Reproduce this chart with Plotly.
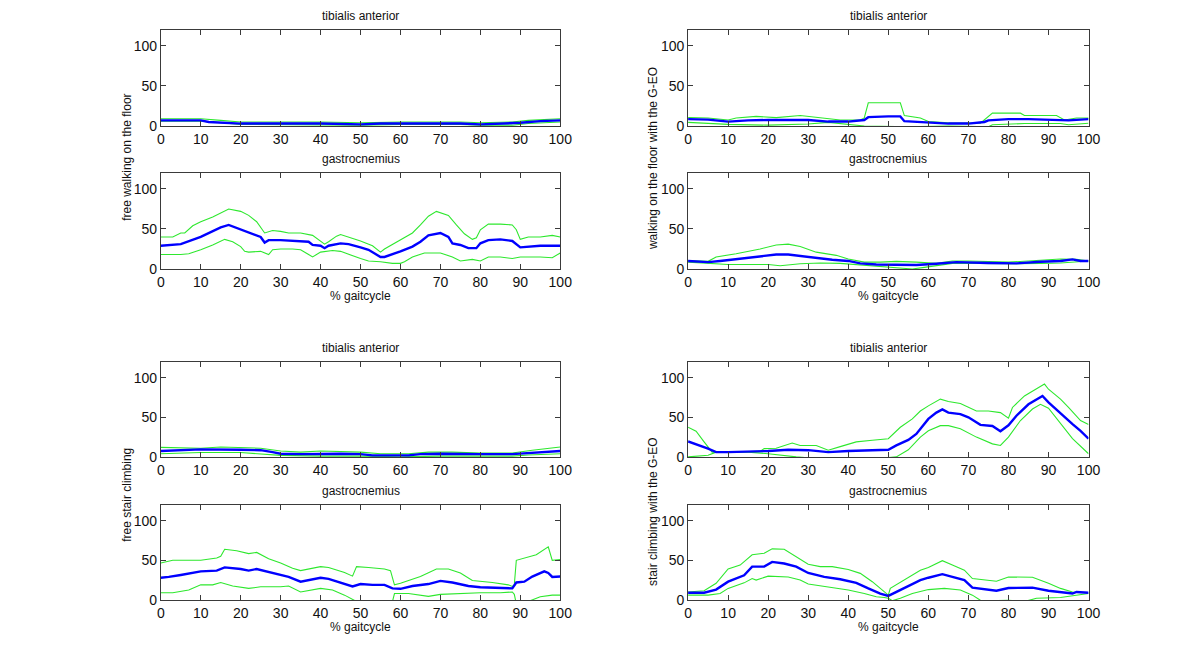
import plotly.graph_objects as go

# --- data: (percent of gait cycle, EMG amplitude) ---

# free walking on the floor
fw_tib_mean = [(0, 7), (10, 7), (12, 5), (20, 3), (40, 3), (50, 2), (55, 3), (75, 3), (80, 2), (87, 3), (90, 4), (95, 6), (100, 7)]
fw_tib_up = [(0, 9), (10, 9), (15, 7), (20, 5), (40, 5), (50, 4), (60, 5), (75, 5), (80, 4), (88, 5), (92, 7), (100, 9)]
fw_tib_lo = [(0, 6), (10, 6), (15, 4), (20, 2), (50, 1), (60, 2), (75, 2), (80, 1), (88, 1), (92, 3), (100, 5)]

fw_gas_mean = [(0, 29), (5, 31), (10, 40), (15, 52), (17, 55), (20, 49), (22, 45), (25, 40), (26, 33), (27, 36), (30, 36),
               (35, 35), (37, 34), (38, 30), (40, 29), (41, 26), (42, 29), (45, 32), (47, 31), (50, 27), (52, 24), (55, 15),
               (56, 15), (60, 22), (63, 28), (65, 34), (67, 42), (70, 45), (72, 40), (73, 32), (75, 30), (77, 26), (79, 26),
               (80, 32), (82, 36), (85, 37), (88, 35), (90, 27), (93, 28), (95, 29), (100, 29)]
fw_gas_up = [(0, 40), (3, 40), (5, 45), (6, 45), (8, 54), (10, 59), (13, 65), (15, 70), (17, 75), (20, 72), (22, 67), (24, 59),
             (25, 52), (26, 45), (28, 48), (30, 47), (32, 45), (35, 45), (38, 42), (40, 35), (41, 31), (42, 34), (44, 41),
             (45, 43), (47, 40), (50, 35), (53, 29), (55, 21), (56, 25), (58, 31), (60, 36), (63, 45), (65, 55), (67, 66),
             (69, 72), (70, 70), (72, 67), (74, 55), (76, 44), (78, 37), (79, 39), (80, 49), (82, 56), (85, 56), (88, 55),
             (89, 49), (90, 37), (92, 40), (95, 40), (98, 42), (100, 40)]
fw_gas_lo = [(0, 18), (5, 18), (7, 19), (10, 24), (13, 30), (16, 37), (18, 34), (20, 28), (21, 22), (22, 21), (25, 22),
             (27, 18), (28, 24), (30, 25), (33, 25), (35, 24), (37, 18), (38, 15), (40, 21), (43, 23), (45, 22), (48, 16),
             (50, 13), (52, 10), (55, 9), (58, 7), (60, 7), (61, 9), (63, 15), (66, 20), (70, 20), (73, 15), (75, 10),
             (78, 12), (80, 10), (82, 15), (85, 15), (88, 13), (90, 15), (95, 15), (98, 14), (100, 20)]

# walking on the floor with the G-EO
gw_tib_mean = [(0, 8.5), (5, 8), (10, 5.5), (15, 7), (20, 7.5), (30, 7.5), (35, 5.5), (40, 5.5), (44, 7.5), (45, 11),
               (50, 12), (53, 12), (54, 6), (60, 4), (65, 3), (70, 3), (74, 5), (75, 7), (80, 8.5), (85, 8.5), (93, 7.5),
               (95, 7), (100, 8.5)]
gw_tib_up = [(0, 10.5), (5, 10), (10, 7.5), (12, 10), (17, 12), (22, 10.5), (28, 13), (33, 10.5), (38, 7.5), (43, 7.5),
             (44, 10), (45, 29), (53, 29), (54, 13), (58, 10), (60, 5.5), (65, 4), (73, 3.5), (75, 12), (76, 16), (83, 16),
             (84, 13), (92, 13), (94, 7.5), (97, 10), (100, 10)]
gw_tib_lo = [(0, 4.5), (10, 2), (20, 1), (30, 2.5), (35, 4.5), (40, 2.5), (44, 0), (55, -1), (65, 0), (75, -1), (76, 1.5),
             (84, 3), (93, 3), (95, 1.5), (100, 3.5)]

gw_gas_mean = [(0, 10), (5, 8.5), (8, 10), (12, 12.5), (17, 15), (22, 18), (25, 18), (28, 16), (32, 14), (36, 11.5), (40, 10),
               (43, 7), (47, 5.5), (52, 5.5), (57, 5), (62, 6.5), (67, 8.5), (75, 7.5), (82, 7), (88, 9), (93, 10), (96, 12),
               (98, 10), (100, 10)]
gw_gas_up = [(0, 10.5), (5, 9.5), (7, 15), (12, 19), (18, 25), (22, 30), (25, 31), (28, 28), (32, 21), (37, 17), (40, 12.5),
             (44, 8.5), (48, 8.5), (52, 9.5), (57, 8.5), (62, 7), (66, 10), (70, 10), (80, 8.5), (88, 11.5), (93, 12.5),
             (97, 12), (100, 10)]
gw_gas_lo = [(0, 8.5), (5, 7), (10, 5.5), (20, 5.5), (23, 4), (28, 6.5), (33, 7.5), (38, 7), (42, 5.5), (47, 3), (52, 1),
             (56, 0), (59, 2), (62, 4), (66, 7), (72, 7), (80, 6.5), (88, 7), (93, 7.5), (100, 10)]

# free stair climbing
fs_tib_mean = [(0, 7.5), (5, 8.5), (10, 9.5), (20, 9), (25, 8.5), (28, 6), (30, 4), (35, 3.5), (40, 4), (45, 4), (50, 3.5),
               (53, 2), (62, 2), (65, 3.5), (70, 4), (75, 3.5), (80, 3.5), (88, 3.5), (92, 5), (96, 6), (100, 7.5)]
fs_tib_up = [(0, 12), (10, 11), (15, 12.5), (25, 11), (30, 7.5), (35, 6), (40, 7.5), (45, 7), (50, 6), (55, 4), (62, 4),
             (67, 6), (73, 6), (80, 5), (88, 5), (93, 8.5), (97, 10.5), (100, 12.5)]
fs_tib_lo = [(0, 4), (10, 5.5), (20, 5.5), (25, 4), (30, 2), (40, 1), (50, 1), (60, 0), (70, 1), (80, 1), (88, 1),
             (92, 2.5), (100, 4)]

fs_gas_mean = [(0, 28), (2, 29), (5, 31.5), (10, 36), (14, 37), (15, 39), (16, 41), (20, 39), (22, 37), (24, 39), (27, 35),
               (30, 31), (32, 29), (35, 23), (37, 25), (40, 28), (42, 26.5), (45, 22), (48, 17), (50, 20), (53, 19),
               (56, 19), (58, 14.5), (60, 14), (63, 17.5), (67, 20), (70, 24), (73, 22), (77, 17.5), (80, 16), (85, 15.5),
               (88, 14.5), (89, 22), (91, 23), (93, 29.5), (96, 36), (97, 34), (98, 29), (100, 29.5)]
fs_gas_up = [(0, 46.5), (3, 50), (10, 50), (14, 53), (15, 55), (16, 64), (19, 62), (22, 58.5), (24, 60), (27, 52),
             (30, 46.5), (33, 40), (35, 37), (37, 39), (40, 42), (42, 41), (46, 34.5), (48, 30), (49, 42), (52, 41),
             (56, 39), (57.5, 37), (58.5, 19), (60, 21), (65, 29.5), (69, 39), (72, 39), (75, 34), (78, 24.5), (83, 22),
             (87, 19), (88, 17), (88.5, 19), (89, 50), (91, 53), (94, 57), (97, 67), (98, 50), (100, 51)]
fs_gas_lo = [(0, 9), (3, 9), (7, 12.5), (10, 19), (13, 19), (15, 22), (18, 17.5), (22, 14.5), (25, 16.5), (30, 16.5),
             (32, 17.5), (35, 10), (40, 14.5), (43, 12.5), (46, 6), (48, 0.5), (49, -2), (58, -2), (58.5, 8), (62, 8),
             (67, 4.5), (70, 7), (75, 8), (80, 9), (85, 9), (88, 10), (88.5, 7), (89, -5), (92, -2), (95, 4), (98, 6),
             (100, 6)]

# stair climbing with the G-EO
gs_tib_mean = [(0, 19.5), (3, 14.5), (5, 10.5), (7, 6), (10, 6), (20, 7.5), (25, 9), (30, 8.5), (35, 6), (40, 7.5), (45, 8.5),
               (50, 9), (52, 14.5), (55, 21.5), (57, 29), (60, 48), (62, 56), (63.5, 60), (65, 56), (68, 54), (70, 50),
               (73, 40.5), (76, 39), (78, 32.5), (80, 40), (82, 52), (85, 66.5), (88.5, 77), (90, 69), (93, 55), (96, 41.5),
               (98, 33), (100, 23)]
gs_tib_up = [(0, 37.5), (2, 32.5), (4, 19), (6, 6), (10, 6), (18, 7), (19, 10.5), (22, 11), (26, 17.5), (28, 14.5), (32, 14.5),
             (35, 8.5), (38, 13), (42, 19), (46, 21), (50, 23), (53, 37.5), (56, 48), (58, 58), (60, 64.5), (63, 73),
             (65, 70), (68, 67.5), (72, 58), (75, 58), (78, 56), (80, 49), (81, 62.5), (84, 77), (88, 88.5), (89, 92),
             (90, 85.5), (93, 73), (95, 62.5), (98, 46), (100, 41)]
gs_tib_lo = [(0, 0), (5, 2), (7, 6), (15, 6), (20, 4), (25, 1.5), (27, 0), (35, -3), (45, -3), (52, 0), (55, 9), (58, 25),
             (60, 33), (63, 39.5), (65, 39.5), (68, 35.5), (72, 25), (76, 16.5), (78, 14.5), (80, 25), (83, 46), (86, 60.5),
             (88, 66.5), (90, 61.5), (93, 41.5), (96, 23), (100, 4)]

gs_gas_mean = [(0, 9), (4, 9), (7, 13), (10, 23), (14, 31), (16, 42), (19, 42), (21, 48), (24, 46), (27, 42), (30, 34),
               (34, 29), (38, 26), (42, 21.5), (45, 14.5), (48, 8), (50, 5), (52, 10), (55, 16.5), (58, 25), (60, 28),
               (63.5, 32.5), (66, 29), (69, 25), (71, 15.5), (74, 13.5), (77, 11.5), (80, 15), (86, 15.5), (90, 11.5),
               (93, 10), (96, 8), (97, 10), (100, 9)]
gs_gas_up = [(0, 10), (4, 11.5), (7, 21), (10, 39), (13, 44), (16, 57), (19, 59), (21, 64.5), (24, 64), (27, 54.5), (30, 45),
             (33, 42), (36, 42), (40, 38.5), (43, 33.5), (46, 23), (49, 10), (50, 6), (50.5, 14.5), (54, 25), (58, 37.5),
             (60, 41), (63.5, 49.5), (66, 44), (69, 37.5), (71, 27), (75, 25), (77, 23.5), (80, 29), (86, 28.5), (90, 21),
             (93, 14.5), (96, 10), (100, 9)]
gs_gas_lo = [(0, 6), (5, 6), (8, 8), (10, 14.5), (14, 21.5), (16, 27), (17, 25), (20, 30), (25, 29), (28, 25), (30, 20),
             (35, 16.5), (40, 12.5), (44, 8), (47, 4), (49, 3), (50, 2), (51, -1), (53, 2), (56, 8), (60, 13), (64, 14.5),
             (68, 12.5), (71, 6), (73, -0.5), (76, -1), (80, -0.5), (84, -2), (87, 2), (93, 3), (97, 6), (100, 8)]

row_labels = ["free walking on the floor", "walking on the floor with the G-EO",
              "free stair climbing", "stair climbing with the G-EO"]
muscles = ["tibialis anterior", "gastrocnemius"]
x_ticks = [0, 10, 20, 30, 40, 50, 60, 70, 80, 90, 100]
y_ticks = [0, 50, 100]

# panels in reading order: (condition, muscle, mean, upper, lower)
panels = [
    (0, 0, fw_tib_mean, fw_tib_up, fw_tib_lo),
    (1, 0, gw_tib_mean, gw_tib_up, gw_tib_lo),
    (0, 1, fw_gas_mean, fw_gas_up, fw_gas_lo),
    (1, 1, gw_gas_mean, gw_gas_up, gw_gas_lo),
    (2, 0, fs_tib_mean, fs_tib_up, fs_tib_lo),
    (3, 0, gs_tib_mean, gs_tib_up, gs_tib_lo),
    (2, 1, fs_gas_mean, fs_gas_up, fs_gas_lo),
    (3, 1, gs_gas_mean, gs_gas_up, gs_gas_lo),
]

W, H = 1200, 656
K = 0.988  # the photographed page comes out slightly shrunk; compensate
col_px = [(157, 557), (685, 1086)]          # left/right screen pixels of the two columns
row_px = [(30, 126), (173, 269), (362, 457), (505, 600)]  # top/bottom screen pixels of the four rows


def px(x):
    return x / K / W


def py(y):
    return 1 - y / K / H


GREEN = "#2ee82e"
BLUE = "#0000ff"
FRAME = "#3a3a3a"
FONT = "Liberation Sans, Arial, sans-serif"
TXT = dict(family=FONT, size=12, color="#111")

fig = go.Figure()
layout = {}
annotations = []

for i, (cond, mus, mean, up, lo) in enumerate(panels):
    col = cond % 2
    row = (cond // 2) * 2 + mus
    n = i + 1
    xa = "x" if n == 1 else f"x{n}"
    ya = "y" if n == 1 else f"y{n}"

    for series, color, width in [(up, GREEN, 1.1), (lo, GREEN, 1.1), (mean, BLUE, 2.4)]:
        fig.add_trace(go.Scatter(
            x=[p[0] for p in series], y=[p[1] for p in series],
            mode="lines", line=dict(color=color, width=width),
            xaxis=xa, yaxis=ya, showlegend=False, hoverinfo="skip"))

    x0, x1 = col_px[col]
    top, bot = row_px[row]
    common = dict(showline=True, mirror="ticks", linecolor=FRAME, linewidth=1,
                  ticks="inside", ticklen=5, tickcolor=FRAME, showgrid=False, zeroline=False,
                  tickfont=dict(family=FONT, size=14, color="#111"), fixedrange=True)
    layout["xaxis" if n == 1 else f"xaxis{n}"] = dict(
        common, domain=[px(x0), px(x1)], range=[0, 100], tickvals=x_ticks, anchor=ya)
    layout["yaxis" if n == 1 else f"yaxis{n}"] = dict(
        common, domain=[py(bot), py(top)], range=[0, 120], tickvals=y_ticks, anchor=xa)

    # panel title
    annotations.append(dict(text=muscles[mus], x=px((x0 + x1) / 2), y=py(top - 14),
                            xref="paper", yref="paper", xanchor="center", yanchor="middle",
                            showarrow=False, font=TXT))
    if mus == 1:
        annotations.append(dict(text="% gaitcycle", x=px((x0 + x1) / 2), y=py(bot + 27),
                                xref="paper", yref="paper", xanchor="center", yanchor="middle",
                                showarrow=False, font=TXT))

# row labels (vertical)
label_pos = [(123, 157), (650, 159), (123, 495), (650, 512)]
for text, (lx, ly) in zip(row_labels, label_pos):
    annotations.append(dict(text=text, x=px(lx), y=py(ly), xref="paper", yref="paper",
                            xanchor="center", yanchor="middle",
                            showarrow=False, textangle=-90, font=TXT))

fig.update_layout(**layout)
fig.update_layout(
    width=W, height=H, margin=dict(l=0, r=0, t=0, b=0),
    paper_bgcolor="white", plot_bgcolor="white",
    annotations=annotations, showlegend=False)

# drop the browser's default body margin so the figure fills the window exactly
fig.write_html("out.html", config={"displayModeBar": False},
               post_script="document.body.style.margin='0';")
